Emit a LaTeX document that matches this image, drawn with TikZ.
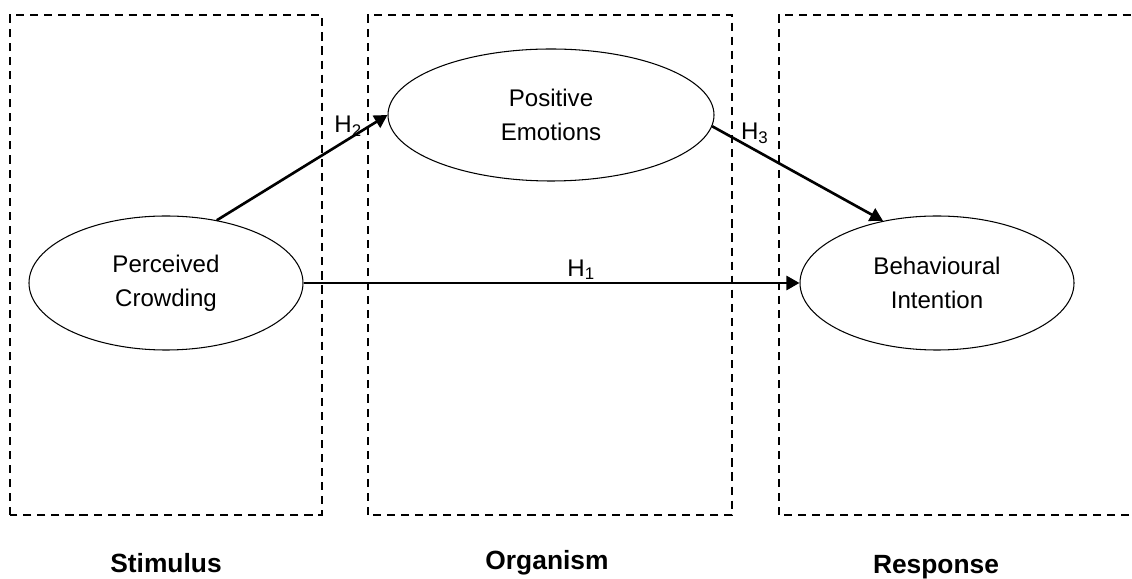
\documentclass[tikz,border=0pt]{standalone}
\usepackage{fontspec}
\setmainfont{Liberation Sans}
\usetikzlibrary{arrows, arrows.meta, positioning, shapes.geometric}

\begin{document}
\begin{tikzpicture}[
    construct/.style={draw, ellipse, line width=0.6pt, inner sep=0pt, align=center,
        font=\fontsize{13.7}{19.5}\selectfont, minimum width=5.48cm, minimum height=2.68cm},
    stage/.style={line width=1.1pt, dash pattern=on 4.6pt off 3.4pt},
    hyp/.style={-{Triangle[length=0.26cm, width=0.28cm]}, line width=1.5pt},
    hlabel/.style={font=\fontsize{13.7}{16}\selectfont, inner sep=1pt},
    stagelabel/.style={font=\bfseries\fontsize{15}{18}\selectfont}
]
    \useasboundingbox (0,0) rectangle (22.64,11.58);

    % Stages
    \draw[stage] (0.2,1.28) rectangle (6.44,11.28);
    \draw[stage] (7.36,1.28) rectangle (14.64,11.28);
    \draw[stage] (15.58,1.28) rectangle (23,11.28);

    % Constructs
    \node[construct] (pc) at (3.32,5.92) {Perceived\\Crowding};
    \node[construct, minimum width=6.52cm, minimum height=2.64cm] (pe) at (11.02,9.28) {Positive\\Emotions};
    \node[construct] (bi) at (18.74,5.92) {Behavioural\\Intention};

    % Hypotheses
    \draw[hyp] (pc.51) -- (pe.west) node[hlabel, pos=0.77, above] (h2) {H\textsubscript{2}};
    \draw[hyp] (pe.356) -- (bi.131) node[hlabel, pos=0.25, above=2pt] (h3) {H\textsubscript{3}};
    \draw[hyp] (pc.east) -- (bi.west) node[hlabel, pos=0.56, above] (h1) {H\textsubscript{1}};

    % Stage labels
    \node[stagelabel] (stimulus) at (3.32,0.32) {Stimulus};
    \node[stagelabel] (organism) at (10.94,0.32) {Organism};
    \node[stagelabel] (response) at (18.72,0.24) {Response};
\end{tikzpicture}
\end{document}
